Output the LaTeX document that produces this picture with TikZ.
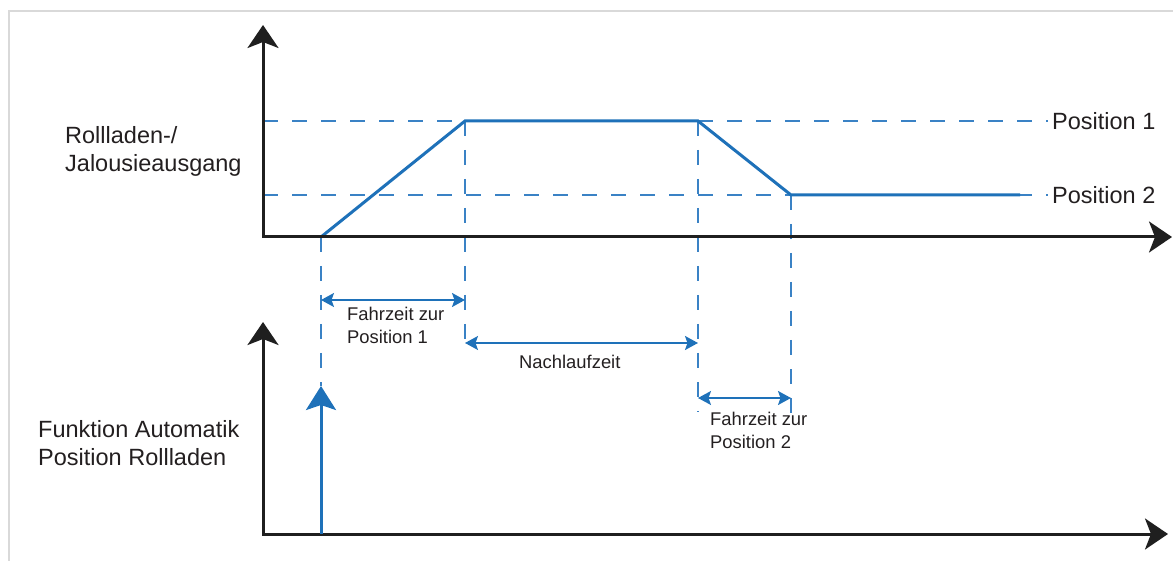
\documentclass[tikz,border=0pt]{standalone}
\usepackage{fontspec}
\setmainfont{Liberation Sans}
\usetikzlibrary{arrows.meta}
\definecolor{ablue}{RGB}{30,113,185}
\definecolor{dblue}{RGB}{58,130,197}
\definecolor{txt}{RGB}{35,31,32}
\definecolor{framegray}{RGB}{217,217,217}
\begin{document}
\begin{tikzpicture}[x=1pt,y=-1pt,
  axisline/.style={line width=3pt, draw=black!88,
    {Stealth[length=23pt,width=31pt,inset=6pt]}-{Stealth[length=23pt,width=31pt,inset=6pt]}},
  curve/.style={line width=3pt, draw=ablue, line join=miter},
  guide/.style={line width=1.6pt, draw=dblue, dash pattern=on 15pt off 14pt},
  dim/.style={line width=1.5pt, draw=ablue,
    {Stealth[length=13pt,width=14pt,inset=2.5pt]}-{Stealth[length=13pt,width=14pt,inset=2.5pt]}},
  trig/.style={line width=3pt, draw=ablue, -{Stealth[length=24pt,width=30pt,inset=5pt]}},
  biglabel/.style={text=txt, inner sep=0pt, align=left, font=\fontsize{23.5pt}{28pt}\selectfont},
  smalllabel/.style={text=txt, inner sep=0pt, align=left, font=\fontsize{18.4pt}{23pt}\selectfont}
]
\useasboundingbox (0,0) rectangle (1173,561);
% frame
\coordinate (fb) at (9,561);
\coordinate (fc) at (9,11);
\coordinate (fr) at (1173,11);
\draw[framegray, line width=2.5pt] (fb) -- (fc) -- (fr);

% upper axes
\coordinate (O1) at (263,237);
\coordinate (Y1) at (263,25);
\coordinate (X1) at (1172,237);
% lower axes
\coordinate (O2) at (263,534);
\coordinate (Y2) at (263,322);
\coordinate (X2) at (1168,534);

% key points
\coordinate (P1L) at (263,121);
\coordinate (P1R) at (1048,121);
\coordinate (P2L) at (263,195);
\coordinate (P2R) at (1048,195);
\coordinate (A) at (321,237);
\coordinate (B) at (465,121);
\coordinate (C) at (698,121);
\coordinate (D) at (791,195);
\coordinate (E) at (1020,195);

% guide lines
\draw[guide] (P1L) -- (P1R);
\draw[guide] (P2L) -- (P2R);
\coordinate (Ad) at (321,386);
\coordinate (Bd) at (465,349);
\coordinate (Cd) at (698,412);
\coordinate (Dd) at (791,418);
\draw[guide] (A) -- (Ad);
\draw[guide] (B) -- (Bd);
\draw[guide] (C) -- (Cd);
\draw[guide] (D) -- (Dd);

% curve
\draw[curve] (A) -- (B) -- (C) -- (D) -- (E);

% axes
\draw[axisline] (Y1) -- (O1) -- (X1);
\draw[axisline] (Y2) -- (O2) -- (X2);

% dimension arrows
\coordinate (d1a) at (321,300);
\coordinate (d1b) at (465,300);
\coordinate (d2a) at (465,343);
\coordinate (d2b) at (698,343);
\coordinate (d3a) at (698,398);
\coordinate (d3b) at (791,398);
\draw[dim] (d1a) -- (d1b);
\draw[dim] (d2a) -- (d2b);
\draw[dim] (d3a) -- (d3b);

% trigger arrow
\coordinate (T0) at (321,534);
\draw[trig] (T0) -- (Ad);

% labels (base anchor = baseline of last line)
\node[biglabel, anchor=base west] (lr) at (65,171.4) {Rollladen-/\\Jalousieausgang};
\node[biglabel, anchor=base west] (lf) at (38,465.4) {Funktion Automatik\\Position Rollladen};
\node[biglabel, anchor=base west] (lp1) at (1052,129.4) {Position 1};
\node[biglabel, anchor=base west] (lp2) at (1052,203.4) {Position 2};
\node[smalllabel, anchor=base west] (l1) at (347,343.6) {Fahrzeit zur\\Position 1};
\node[smalllabel, anchor=base west] (l2) at (519,368.6) {Nachlaufzeit};
\node[smalllabel, anchor=base west] (l3) at (710,448.6) {Fahrzeit zur\\Position 2};
\end{tikzpicture}
\end{document}
